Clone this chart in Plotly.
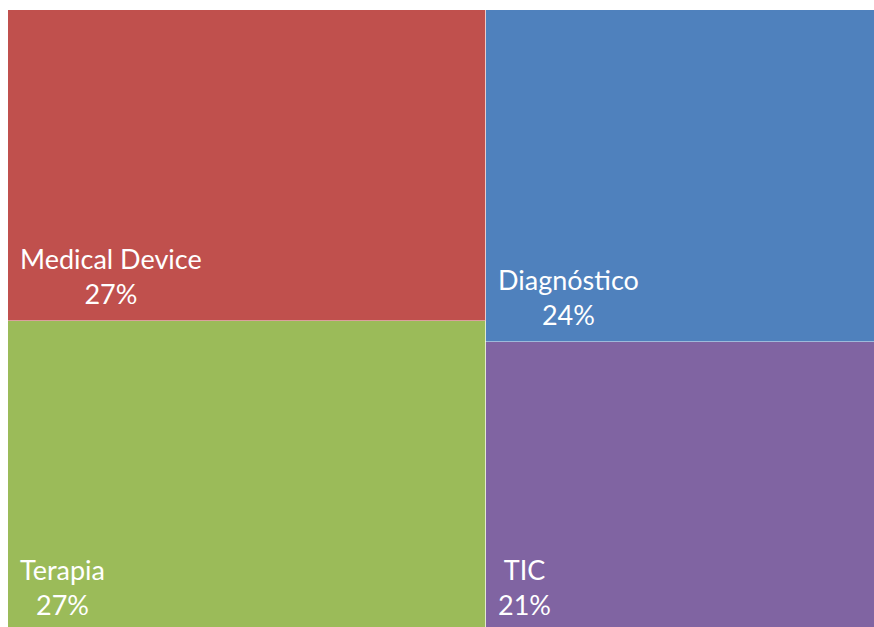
import plotly.graph_objects as go

# Data
categories = ["Medical Device", "Terapia", "Diagnóstico", "TIC"]
values = [27, 27, 24, 21]          # percent
columns = [0, 0, 1, 1]             # treemap column of each category
colors = ["#C0504D", "#9BBB59", "#4F81BD", "#8064A2"]

# column widths from data
col_tot = [sum(v for v, c in zip(values, columns) if c == k) for k in (0, 1)]
col_left = [0, col_tot[0]]

total = sum(col_tot)
W, H = 874, 627
left_px, top_px = 8, 10
full_w_px, full_h_px = 876, 622
plot_w = W - left_px
plot_h = H - top_px
ymin = 1 - plot_h / full_h_px

fig = go.Figure()
# stack order: bottom first
order = [1, 0, 3, 2]  # Terapia, Medical Device, TIC, Diagnóstico
for i in order:
    c = columns[i]
    fig.add_trace(go.Bar(
        x=[col_left[c] + col_tot[c] / 2],
        y=[values[i] / col_tot[c]],
        width=[col_tot[c]],
        marker=dict(color=colors[i], line=dict(color="rgba(255,255,255,0.45)", width=1)),
        hoverinfo="skip",
        showlegend=False,
    ))

# labels: bottom-left of each cell
bottoms = {}
for c in (0, 1):
    acc = 0
    for i in order:
        if columns[i] == c:
            bottoms[i] = acc
            acc += values[i] / col_tot[c]

for i, name in enumerate(categories):
    c = columns[i]
    y_anchor = max(bottoms[i], ymin + 1e-6)
    fig.add_annotation(
        x=col_left[c] + 1e-6, y=y_anchor, xref="x", yref="y",
        xanchor="left", yanchor="bottom", align="center",
        xshift=10, yshift=9 - (y_anchor - bottoms[i]) * full_h_px,
        text=f"{name}<br>{values[i]}%",
        showarrow=False,
        font=dict(family="Lato", size=27, color="white"),
    )

fig.update_xaxes(range=[0, total * plot_w / full_w_px], visible=False, showgrid=False, zeroline=False, fixedrange=True)
fig.update_yaxes(range=[ymin, 1], visible=False, showgrid=False, zeroline=False, fixedrange=True)

fig.update_layout(
    barmode="stack", bargap=0,
    width=W, height=H,
    margin=dict(l=left_px, r=0, t=top_px, b=0),
    paper_bgcolor="white", plot_bgcolor="white",
)
fig.write_html("out.html", config={"displayModeBar": False},
               post_script="document.body.style.margin='0';document.body.style.overflow='hidden';")
